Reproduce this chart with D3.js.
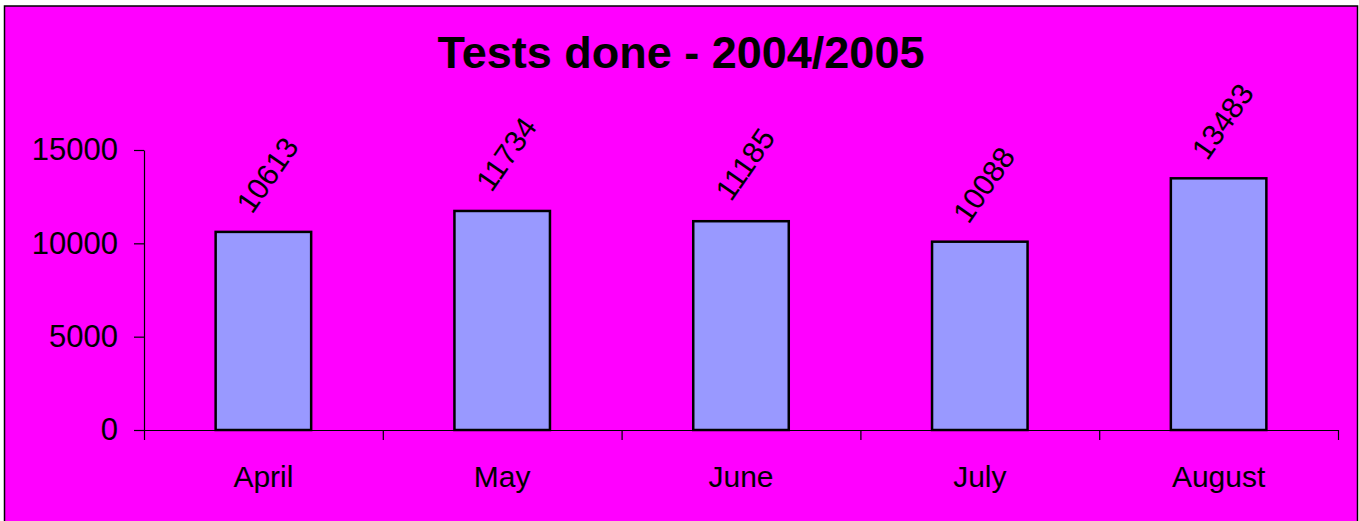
<!DOCTYPE html>
<html>
<head>
<meta charset="utf-8">
<script src="https://cdnjs.cloudflare.com/ajax/libs/d3/7.8.5/d3.min.js"></script>
<style>
  html, body { margin: 0; padding: 0; background: #fff; }
  svg { display: block; font-family: "Liberation Sans", Arial, sans-serif; }
</style>
</head>
<body>
<script>
var months = ["April", "May", "June", "July", "August"],
	tests = [10613, 11734, 11185, 10088, 13483],
	yTicks = [0, 5000, 10000, 15000],
	title = "Tests done - 2004/2005";

var w = 1359, h = 521,
	pd = { left: 144, right: 1338, top: 150, bottom: 430 };

var svg = d3.select("body")
			.append("svg")
			.attr("width", w)
			.attr("height", h);

// chart area
svg.append("rect")
	.attr("x", 4.5)
	.attr("y", 6)
	.attr("width", 1353)
	.attr("height", 530)
	.attr("fill", "#ff00ff")
	.attr("stroke", "#000")
	.attr("stroke-width", 1.5);

svg.append("text")
	.attr("x", 681)
	.attr("y", 68)
	.attr("text-anchor", "middle")
	.attr("font-size", "45px")
	.attr("font-weight", "bold")
	.text(title);

var x = d3.scaleBand()
		  .domain(months)
		  .range([pd.left, pd.right]);

var y = d3.scaleLinear()
		  .domain([0, 15000])
		  .range([pd.bottom, pd.top]);

var bw = x.step() * 0.4;

// bars
svg.selectAll("rect.bar")
	.data(tests)
	.enter()
	.append("rect")
	.attr("class", "bar")
	.attr("fill", "#9999ff")
	.attr("stroke", "#000")
	.attr("stroke-width", 2.5)
	.attr("x", function(d, i) {
		return x(months[i]) + (x.step() - bw) / 2;
	})
	.attr("y", function(d) {
		return y(d);
	})
	.attr("width", bw)
	.attr("height", function(d) {
		return y(0) - y(d);
	});

// y axis
var yAxis = svg.append("g")
			   .attr("transform", "translate(" + pd.left + ",0)")
			   .call(d3.axisLeft(y)
			   		.tickValues(yTicks)
			   		.tickSize(10)
			   		.tickSizeOuter(0)
			   		.tickPadding(16)
			   		.tickFormat(d3.format("d")));

yAxis.selectAll("text")
	 .attr("font-size", "31px")
	 .attr("fill", "#000")
	 .attr("font-family", "Liberation Sans, Arial, sans-serif");

// x axis with ticks on category boundaries
var xb = d3.scaleLinear()
		   .domain([0, months.length])
		   .range([pd.left, pd.right]);

svg.append("g")
   .attr("transform", "translate(0," + pd.bottom + ")")
   .call(d3.axisBottom(xb)
   		.tickValues(d3.range(months.length + 1))
   		.tickSize(10)
   		.tickSizeOuter(0)
   		.tickFormat(""));

var xAxis = svg.append("g")
			   .attr("transform", "translate(0," + pd.bottom + ")")
			   .call(d3.axisBottom(x).tickSize(0));

xAxis.select(".domain").remove();
xAxis.selectAll("text")
	 .attr("y", 57)
	 .attr("dy", 0)
	 .attr("font-size", "30px")
	 .attr("fill", "#000")
	 .attr("font-family", "Liberation Sans, Arial, sans-serif");

svg.selectAll("path.domain, .tick line")
   .attr("stroke", "#000")
   .attr("stroke-width", 1.2);

// value labels
svg.selectAll("text.val")
	.data(tests)
	.enter()
	.append("text")
	.attr("class", "val")
	.attr("font-size", "30px")
	.attr("text-anchor", "middle")
	.attr("dominant-baseline", "central")
	.attr("transform", function(d, i) {
		var cx = x(months[i]) + x.step() / 2 + 4,
			cy = y(d) - 57;
		return "translate(" + cx + "," + cy + ") rotate(-55)";
	})
	.text(function(d) {
		return d;
	});
</script>
</body>
</html>
